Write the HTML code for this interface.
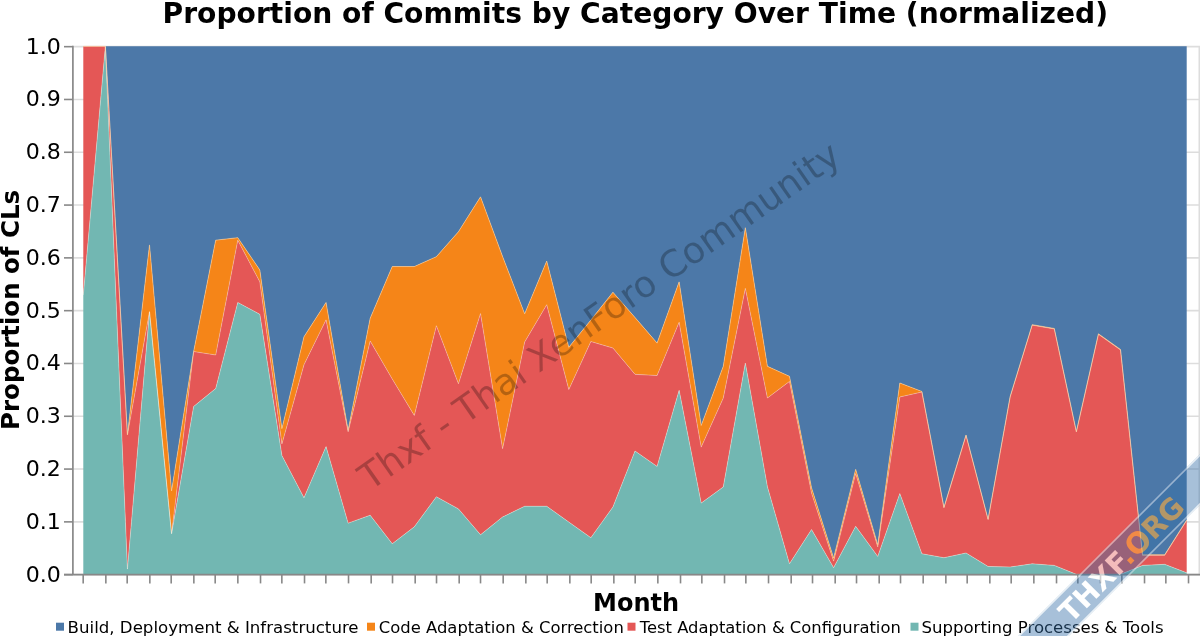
<!DOCTYPE html>
<html><head><meta charset="utf-8"><title>Proportion of Commits by Category Over Time (normalized)</title>
<style>
html,body{margin:0;padding:0;background:#fff;}
body{width:1200px;height:636px;overflow:hidden;position:relative;font-family:"DejaVu Sans","Liberation Sans",sans-serif;}
svg text{font-family:"DejaVu Sans","Liberation Sans",sans-serif;}
.title{font-size:28px;font-weight:bold;fill:#000;}
.atitle{font-size:24px;font-weight:bold;fill:#000;}
.lab{font-size:21.33px;fill:#000;}
.leg{font-size:16px;fill:#000;}
.wm{font-size:36.56px;fill:#000;fill-opacity:0.26;}
.ban{font-size:28.9px;font-weight:bold;}
</style></head><body>
<svg width="1200" height="636" viewBox="0 0 1200 636" style="position:absolute;left:0;top:0;filter:blur(0.5px)">
<rect width="1200" height="636" fill="#fff"/>
<line x1="73.3" x2="1200.0" y1="574.67" y2="574.67" stroke="#ddd" stroke-width="1.6"/>
<line x1="73.3" x2="1200.0" y1="521.87" y2="521.87" stroke="#ddd" stroke-width="1.6"/>
<line x1="73.3" x2="1200.0" y1="469.07" y2="469.07" stroke="#ddd" stroke-width="1.6"/>
<line x1="73.3" x2="1200.0" y1="416.27" y2="416.27" stroke="#ddd" stroke-width="1.6"/>
<line x1="73.3" x2="1200.0" y1="363.47" y2="363.47" stroke="#ddd" stroke-width="1.6"/>
<line x1="73.3" x2="1200.0" y1="310.67" y2="310.67" stroke="#ddd" stroke-width="1.6"/>
<line x1="73.3" x2="1200.0" y1="257.87" y2="257.87" stroke="#ddd" stroke-width="1.6"/>
<line x1="73.3" x2="1200.0" y1="205.07" y2="205.07" stroke="#ddd" stroke-width="1.6"/>
<line x1="73.3" x2="1200.0" y1="152.27" y2="152.27" stroke="#ddd" stroke-width="1.6"/>
<line x1="73.3" x2="1200.0" y1="99.47" y2="99.47" stroke="#ddd" stroke-width="1.6"/>
<line x1="73.3" x2="1200.0" y1="46.67" y2="46.67" stroke="#ddd" stroke-width="1.6"/>
<line x1="1199.3" x2="1199.3" y1="46.67" y2="574.67" stroke="#ddd" stroke-width="1.6"/>
<polygon points="83.30,46.37 105.37,46.37 127.44,46.37 149.50,46.37 171.57,46.37 193.64,46.37 215.71,46.37 237.78,46.37 259.84,46.37 281.91,46.37 303.98,46.37 326.05,46.37 348.12,46.37 370.18,46.37 392.25,46.37 414.32,46.37 436.39,46.37 458.46,46.37 480.52,46.37 502.59,46.37 524.66,46.37 546.73,46.37 568.80,46.37 590.86,46.37 612.93,46.37 635.00,46.37 657.07,46.37 679.14,46.37 701.20,46.37 723.27,46.37 745.34,46.37 767.41,46.37 789.48,46.37 811.54,46.37 833.61,46.37 855.68,46.37 877.75,46.37 899.82,46.37 921.88,46.37 943.95,46.37 966.02,46.37 988.09,46.37 1010.16,46.37 1032.22,46.37 1054.29,46.37 1076.36,46.37 1098.43,46.37 1120.50,46.37 1142.56,46.37 1164.63,46.37 1186.70,46.37 1186.70,519.99 1164.63,554.83 1142.56,554.83 1120.50,349.44 1098.43,333.81 1076.36,431.44 1054.29,328.48 1032.22,324.63 1010.16,396.43 988.09,519.14 966.02,434.98 943.95,507.31 921.88,391.47 899.82,382.97 877.75,544.80 855.68,469.30 833.61,558.00 811.54,487.78 789.48,376.37 767.41,366.34 745.34,227.69 723.27,366.34 701.20,425.47 679.14,281.86 657.07,343.11 635.00,317.50 612.93,292.21 590.86,320.03 568.80,347.33 546.73,261.00 524.66,313.85 502.59,256.51 480.52,196.85 458.46,231.70 436.39,256.67 414.32,266.55 392.25,266.55 370.18,318.29 348.12,430.23 326.05,302.45 303.98,336.77 281.91,428.64 259.84,269.98 237.78,237.66 215.71,240.15 193.64,351.55 171.57,490.95 149.50,244.90 127.44,434.71 105.37,46.37 83.30,46.37" fill="#4c78a8"/>
<polygon points="83.30,46.37 105.37,46.37 127.44,434.71 149.50,244.90 171.57,490.95 193.64,351.55 215.71,240.15 237.78,237.66 259.84,269.98 281.91,428.64 303.98,336.77 326.05,302.45 348.12,430.23 370.18,318.29 392.25,266.55 414.32,266.55 436.39,256.67 458.46,231.70 480.52,196.85 502.59,256.51 524.66,313.85 546.73,261.00 568.80,347.33 590.86,320.03 612.93,292.21 635.00,317.50 657.07,343.11 679.14,281.86 701.20,425.47 723.27,366.34 745.34,227.69 767.41,366.34 789.48,376.37 811.54,487.78 833.61,558.00 855.68,469.30 877.75,544.80 899.82,382.97 921.88,391.47 943.95,507.31 966.02,434.98 988.09,519.14 1010.16,396.43 1032.22,324.63 1054.29,328.48 1076.36,431.44 1098.43,333.81 1120.50,349.44 1142.56,554.83 1164.63,554.83 1186.70,519.99 1186.70,520.51 1164.63,555.36 1142.56,555.36 1120.50,349.97 1098.43,334.34 1076.36,431.97 1054.29,329.01 1032.22,325.15 1010.16,396.96 988.09,519.67 966.02,435.51 943.95,507.84 921.88,392.00 899.82,396.96 877.75,546.91 855.68,473.52 833.61,561.17 811.54,493.06 789.48,381.39 767.41,398.02 745.34,288.35 723.27,398.02 701.20,447.12 679.14,322.20 657.07,375.53 635.00,374.36 612.93,348.02 590.86,341.52 568.80,389.57 546.73,304.67 524.66,342.05 502.59,448.71 480.52,313.54 458.46,383.76 436.39,325.68 414.32,415.44 392.25,379.01 370.18,340.99 348.12,431.81 326.05,319.87 303.98,364.75 281.91,443.95 259.84,281.86 237.78,240.15 215.71,354.99 193.64,351.55 171.57,533.71 149.50,311.69 127.44,434.71 105.37,46.37 83.30,46.37" fill="#f58518"/>
<polygon points="83.30,46.37 105.37,46.37 127.44,434.71 149.50,311.69 171.57,533.71 193.64,351.55 215.71,354.99 237.78,240.15 259.84,281.86 281.91,443.95 303.98,364.75 326.05,319.87 348.12,431.81 370.18,340.99 392.25,379.01 414.32,415.44 436.39,325.68 458.46,383.76 480.52,313.54 502.59,448.71 524.66,342.05 546.73,304.67 568.80,389.57 590.86,341.52 612.93,348.02 635.00,374.36 657.07,375.53 679.14,322.20 701.20,447.12 723.27,398.02 745.34,288.35 767.41,398.02 789.48,381.39 811.54,493.06 833.61,561.17 855.68,473.52 877.75,546.91 899.82,396.96 921.88,392.00 943.95,507.84 966.02,435.51 988.09,519.67 1010.16,396.96 1032.22,325.15 1054.29,329.01 1076.36,431.97 1098.43,334.34 1120.50,349.97 1142.56,555.36 1164.63,555.36 1186.70,520.51 1186.70,572.79 1164.63,564.34 1142.56,565.39 1120.50,574.37 1098.43,574.37 1076.36,574.37 1054.29,565.39 1032.22,563.81 1010.16,566.98 988.09,566.45 966.02,552.99 943.95,557.69 921.88,553.78 899.82,493.59 877.75,556.42 855.68,526.32 833.61,567.66 811.54,529.49 789.48,563.81 767.41,486.72 745.34,363.01 723.27,486.99 701.20,503.09 679.14,390.31 657.07,466.39 635.00,451.03 612.93,507.00 590.86,537.67 568.80,522.10 546.73,506.26 524.66,506.26 502.59,516.98 480.52,534.77 458.46,508.90 436.39,496.75 414.32,526.85 392.25,543.75 370.18,515.23 348.12,523.15 326.05,446.59 303.98,497.81 281.91,455.57 259.84,314.33 237.78,302.45 215.71,388.51 193.64,406.47 171.57,533.71 149.50,311.69 127.44,569.09 105.37,46.37 83.30,295.06" fill="#e45756"/>
<polygon points="83.30,295.06 105.37,46.37 127.44,569.09 149.50,311.69 171.57,533.71 193.64,406.47 215.71,388.51 237.78,302.45 259.84,314.33 281.91,455.57 303.98,497.81 326.05,446.59 348.12,523.15 370.18,515.23 392.25,543.75 414.32,526.85 436.39,496.75 458.46,508.90 480.52,534.77 502.59,516.98 524.66,506.26 546.73,506.26 568.80,522.10 590.86,537.67 612.93,507.00 635.00,451.03 657.07,466.39 679.14,390.31 701.20,503.09 723.27,486.99 745.34,363.01 767.41,486.72 789.48,563.81 811.54,529.49 833.61,567.66 855.68,526.32 877.75,556.42 899.82,493.59 921.88,553.78 943.95,557.69 966.02,552.99 988.09,566.45 1010.16,566.98 1032.22,563.81 1054.29,565.39 1076.36,574.37 1098.43,574.37 1120.50,574.37 1142.56,565.39 1164.63,564.34 1186.70,572.79 1186.70,574.37 1164.63,574.37 1142.56,574.37 1120.50,574.37 1098.43,574.37 1076.36,574.37 1054.29,574.37 1032.22,574.37 1010.16,574.37 988.09,574.37 966.02,574.37 943.95,574.37 921.88,574.37 899.82,574.37 877.75,574.37 855.68,574.37 833.61,574.37 811.54,574.37 789.48,574.37 767.41,574.37 745.34,574.37 723.27,574.37 701.20,574.37 679.14,574.37 657.07,574.37 635.00,574.37 612.93,574.37 590.86,574.37 568.80,574.37 546.73,574.37 524.66,574.37 502.59,574.37 480.52,574.37 458.46,574.37 436.39,574.37 414.32,574.37 392.25,574.37 370.18,574.37 348.12,574.37 326.05,574.37 303.98,574.37 281.91,574.37 259.84,574.37 237.78,574.37 215.71,574.37 193.64,574.37 171.57,574.37 149.50,574.37 127.44,574.37 105.37,574.37 83.30,574.37" fill="#72b7b2"/>
<polyline points="83.30,295.06 105.37,46.37 127.44,569.09 149.50,311.69 171.57,533.71 193.64,406.47 215.71,388.51 237.78,302.45 259.84,314.33 281.91,455.57 303.98,497.81 326.05,446.59 348.12,523.15 370.18,515.23 392.25,543.75 414.32,526.85 436.39,496.75 458.46,508.90 480.52,534.77 502.59,516.98 524.66,506.26 546.73,506.26 568.80,522.10 590.86,537.67 612.93,507.00 635.00,451.03 657.07,466.39 679.14,390.31 701.20,503.09 723.27,486.99 745.34,363.01 767.41,486.72 789.48,563.81 811.54,529.49 833.61,567.66 855.68,526.32 877.75,556.42 899.82,493.59 921.88,553.78 943.95,557.69 966.02,552.99 988.09,566.45 1010.16,566.98 1032.22,563.81 1054.29,565.39 1076.36,574.37 1098.43,574.37 1120.50,574.37 1142.56,565.39 1164.63,564.34 1186.70,572.79" fill="none" stroke="#fff5e6" stroke-opacity="0.4" stroke-width="0.9" stroke-linejoin="round"/>
<polyline points="83.30,46.37 105.37,46.37 127.44,434.71 149.50,311.69 171.57,533.71 193.64,351.55 215.71,354.99 237.78,240.15 259.84,281.86 281.91,443.95 303.98,364.75 326.05,319.87 348.12,431.81 370.18,340.99 392.25,379.01 414.32,415.44 436.39,325.68 458.46,383.76 480.52,313.54 502.59,448.71 524.66,342.05 546.73,304.67 568.80,389.57 590.86,341.52 612.93,348.02 635.00,374.36 657.07,375.53 679.14,322.20 701.20,447.12 723.27,398.02 745.34,288.35 767.41,398.02 789.48,381.39 811.54,493.06 833.61,561.17 855.68,473.52 877.75,546.91 899.82,396.96 921.88,392.00 943.95,507.84 966.02,435.51 988.09,519.67 1010.16,396.96 1032.22,325.15 1054.29,329.01 1076.36,431.97 1098.43,334.34 1120.50,349.97 1142.56,555.36 1164.63,555.36 1186.70,520.51" fill="none" stroke="#fff5e6" stroke-opacity="0.35" stroke-width="0.9" stroke-linejoin="round"/>
<polyline points="83.30,46.37 105.37,46.37 127.44,434.71 149.50,244.90 171.57,490.95 193.64,351.55 215.71,240.15 237.78,237.66 259.84,269.98 281.91,428.64 303.98,336.77 326.05,302.45 348.12,430.23 370.18,318.29 392.25,266.55 414.32,266.55 436.39,256.67 458.46,231.70 480.52,196.85 502.59,256.51 524.66,313.85 546.73,261.00 568.80,347.33 590.86,320.03 612.93,292.21 635.00,317.50 657.07,343.11 679.14,281.86 701.20,425.47 723.27,366.34 745.34,227.69 767.41,366.34 789.48,376.37 811.54,487.78 833.61,558.00 855.68,469.30 877.75,544.80 899.82,382.97 921.88,391.47 943.95,507.31 966.02,434.98 988.09,519.14 1010.16,396.43 1032.22,324.63 1054.29,328.48 1076.36,431.44 1098.43,333.81 1120.50,349.44 1142.56,554.83 1164.63,554.83 1186.70,519.99" fill="none" stroke="#ffd29a" stroke-opacity="0.6" stroke-width="0.9" stroke-linejoin="round"/>
<line x1="72.9" x2="72.9" y1="45.87" y2="574.67" stroke="#888" stroke-width="1.7"/>
<line x1="64" x2="1200.0" y1="574.6" y2="574.6" stroke="#888" stroke-width="1.6"/>
<line x1="64" x2="72.9" y1="574.67" y2="574.67" stroke="#888" stroke-width="1.6"/>
<text x="25.7" y="581.57" class="lab" textLength="35.1" lengthAdjust="spacingAndGlyphs">0.0</text>
<line x1="64" x2="72.9" y1="521.87" y2="521.87" stroke="#888" stroke-width="1.6"/>
<text x="25.7" y="528.77" class="lab" textLength="35.1" lengthAdjust="spacingAndGlyphs">0.1</text>
<line x1="64" x2="72.9" y1="469.07" y2="469.07" stroke="#888" stroke-width="1.6"/>
<text x="25.7" y="475.97" class="lab" textLength="35.1" lengthAdjust="spacingAndGlyphs">0.2</text>
<line x1="64" x2="72.9" y1="416.27" y2="416.27" stroke="#888" stroke-width="1.6"/>
<text x="25.7" y="423.17" class="lab" textLength="35.1" lengthAdjust="spacingAndGlyphs">0.3</text>
<line x1="64" x2="72.9" y1="363.47" y2="363.47" stroke="#888" stroke-width="1.6"/>
<text x="25.7" y="370.37" class="lab" textLength="35.1" lengthAdjust="spacingAndGlyphs">0.4</text>
<line x1="64" x2="72.9" y1="310.67" y2="310.67" stroke="#888" stroke-width="1.6"/>
<text x="25.7" y="317.57" class="lab" textLength="35.1" lengthAdjust="spacingAndGlyphs">0.5</text>
<line x1="64" x2="72.9" y1="257.87" y2="257.87" stroke="#888" stroke-width="1.6"/>
<text x="25.7" y="264.77" class="lab" textLength="35.1" lengthAdjust="spacingAndGlyphs">0.6</text>
<line x1="64" x2="72.9" y1="205.07" y2="205.07" stroke="#888" stroke-width="1.6"/>
<text x="25.7" y="211.97" class="lab" textLength="35.1" lengthAdjust="spacingAndGlyphs">0.7</text>
<line x1="64" x2="72.9" y1="152.27" y2="152.27" stroke="#888" stroke-width="1.6"/>
<text x="25.7" y="159.17" class="lab" textLength="35.1" lengthAdjust="spacingAndGlyphs">0.8</text>
<line x1="64" x2="72.9" y1="99.47" y2="99.47" stroke="#888" stroke-width="1.6"/>
<text x="25.7" y="106.37" class="lab" textLength="35.1" lengthAdjust="spacingAndGlyphs">0.9</text>
<line x1="64" x2="72.9" y1="46.67" y2="46.67" stroke="#888" stroke-width="1.6"/>
<text x="25.7" y="53.57" class="lab" textLength="35.1" lengthAdjust="spacingAndGlyphs">1.0</text>
<line x1="83.18" x2="83.18" y1="574.67" y2="583.4" stroke="#888" stroke-width="1.6"/>
<line x1="105.85" x2="105.85" y1="574.67" y2="583.4" stroke="#888" stroke-width="1.6"/>
<line x1="127.18" x2="127.18" y1="574.67" y2="583.4" stroke="#888" stroke-width="1.6"/>
<line x1="149.85" x2="149.85" y1="574.67" y2="583.4" stroke="#888" stroke-width="1.6"/>
<line x1="171.18" x2="171.18" y1="574.67" y2="583.4" stroke="#888" stroke-width="1.6"/>
<line x1="193.85" x2="193.85" y1="574.67" y2="583.4" stroke="#888" stroke-width="1.6"/>
<line x1="215.18" x2="215.18" y1="574.67" y2="583.4" stroke="#888" stroke-width="1.6"/>
<line x1="237.85" x2="237.85" y1="574.67" y2="583.4" stroke="#888" stroke-width="1.6"/>
<line x1="260.52" x2="260.52" y1="574.67" y2="583.4" stroke="#888" stroke-width="1.6"/>
<line x1="281.85" x2="281.85" y1="574.67" y2="583.4" stroke="#888" stroke-width="1.6"/>
<line x1="304.52" x2="304.52" y1="574.67" y2="583.4" stroke="#888" stroke-width="1.6"/>
<line x1="325.85" x2="325.85" y1="574.67" y2="583.4" stroke="#888" stroke-width="1.6"/>
<line x1="348.52" x2="348.52" y1="574.67" y2="583.4" stroke="#888" stroke-width="1.6"/>
<line x1="371.18" x2="371.18" y1="574.67" y2="583.4" stroke="#888" stroke-width="1.6"/>
<line x1="392.52" x2="392.52" y1="574.67" y2="583.4" stroke="#888" stroke-width="1.6"/>
<line x1="415.18" x2="415.18" y1="574.67" y2="583.4" stroke="#888" stroke-width="1.6"/>
<line x1="436.52" x2="436.52" y1="574.67" y2="583.4" stroke="#888" stroke-width="1.6"/>
<line x1="459.18" x2="459.18" y1="574.67" y2="583.4" stroke="#888" stroke-width="1.6"/>
<line x1="480.52" x2="480.52" y1="574.67" y2="583.4" stroke="#888" stroke-width="1.6"/>
<line x1="503.18" x2="503.18" y1="574.67" y2="583.4" stroke="#888" stroke-width="1.6"/>
<line x1="525.85" x2="525.85" y1="574.67" y2="583.4" stroke="#888" stroke-width="1.6"/>
<line x1="547.18" x2="547.18" y1="574.67" y2="583.4" stroke="#888" stroke-width="1.6"/>
<line x1="569.85" x2="569.85" y1="574.67" y2="583.4" stroke="#888" stroke-width="1.6"/>
<line x1="591.18" x2="591.18" y1="574.67" y2="583.4" stroke="#888" stroke-width="1.6"/>
<line x1="613.85" x2="613.85" y1="574.67" y2="583.4" stroke="#888" stroke-width="1.6"/>
<line x1="635.18" x2="635.18" y1="574.67" y2="583.4" stroke="#888" stroke-width="1.6"/>
<line x1="657.85" x2="657.85" y1="574.67" y2="583.4" stroke="#888" stroke-width="1.6"/>
<line x1="680.52" x2="680.52" y1="574.67" y2="583.4" stroke="#888" stroke-width="1.6"/>
<line x1="701.85" x2="701.85" y1="574.67" y2="583.4" stroke="#888" stroke-width="1.6"/>
<line x1="724.52" x2="724.52" y1="574.67" y2="583.4" stroke="#888" stroke-width="1.6"/>
<line x1="745.85" x2="745.85" y1="574.67" y2="583.4" stroke="#888" stroke-width="1.6"/>
<line x1="768.52" x2="768.52" y1="574.67" y2="583.4" stroke="#888" stroke-width="1.6"/>
<line x1="791.18" x2="791.18" y1="574.67" y2="583.4" stroke="#888" stroke-width="1.6"/>
<line x1="812.52" x2="812.52" y1="574.67" y2="583.4" stroke="#888" stroke-width="1.6"/>
<line x1="835.18" x2="835.18" y1="574.67" y2="583.4" stroke="#888" stroke-width="1.6"/>
<line x1="856.52" x2="856.52" y1="574.67" y2="583.4" stroke="#888" stroke-width="1.6"/>
<line x1="879.18" x2="879.18" y1="574.67" y2="583.4" stroke="#888" stroke-width="1.6"/>
<line x1="900.52" x2="900.52" y1="574.67" y2="583.4" stroke="#888" stroke-width="1.6"/>
<line x1="923.18" x2="923.18" y1="574.67" y2="583.4" stroke="#888" stroke-width="1.6"/>
<line x1="945.85" x2="945.85" y1="574.67" y2="583.4" stroke="#888" stroke-width="1.6"/>
<line x1="967.18" x2="967.18" y1="574.67" y2="583.4" stroke="#888" stroke-width="1.6"/>
<line x1="989.85" x2="989.85" y1="574.67" y2="583.4" stroke="#888" stroke-width="1.6"/>
<line x1="1011.18" x2="1011.18" y1="574.67" y2="583.4" stroke="#888" stroke-width="1.6"/>
<line x1="1033.85" x2="1033.85" y1="574.67" y2="583.4" stroke="#888" stroke-width="1.6"/>
<line x1="1056.52" x2="1056.52" y1="574.67" y2="583.4" stroke="#888" stroke-width="1.6"/>
<line x1="1077.85" x2="1077.85" y1="574.67" y2="583.4" stroke="#888" stroke-width="1.6"/>
<line x1="1100.52" x2="1100.52" y1="574.67" y2="583.4" stroke="#888" stroke-width="1.6"/>
<line x1="1121.85" x2="1121.85" y1="574.67" y2="583.4" stroke="#888" stroke-width="1.6"/>
<line x1="1144.52" x2="1144.52" y1="574.67" y2="583.4" stroke="#888" stroke-width="1.6"/>
<line x1="1165.85" x2="1165.85" y1="574.67" y2="583.4" stroke="#888" stroke-width="1.6"/>
<line x1="1188.52" x2="1188.52" y1="574.67" y2="583.4" stroke="#888" stroke-width="1.6"/>
<text x="162.6" y="23.1" class="title" textLength="945.5" lengthAdjust="spacingAndGlyphs">Proportion of Commits by Category Over Time (normalized)</text>
<text transform="translate(18.75,429.9) rotate(-90)" class="atitle" textLength="240" lengthAdjust="spacingAndGlyphs">Proportion of CLs</text>
<text x="636.1" y="611.3" text-anchor="middle" class="atitle">Month</text>
<rect x="56" y="622.7" width="8" height="8" fill="#4c78a8"/>
<text x="67.6" y="632.6" class="leg" textLength="291" lengthAdjust="spacingAndGlyphs">Build, Deployment &amp; Infrastructure</text>
<rect x="367" y="622.7" width="8" height="8" fill="#f58518"/>
<text x="378.8" y="632.6" class="leg" textLength="245" lengthAdjust="spacingAndGlyphs">Code Adaptation &amp; Correction</text>
<rect x="627.5" y="622.7" width="8" height="8" fill="#e45756"/>
<text x="639.8" y="632.6" class="leg" textLength="261" lengthAdjust="spacingAndGlyphs">Test Adaptation &amp; Configuration</text>
<rect x="910.5" y="622.7" width="8" height="8" fill="#72b7b2"/>
<text x="921.5" y="632.6" class="leg" textLength="242" lengthAdjust="spacingAndGlyphs">Supporting Processes &amp; Tools</text>
<text transform="translate(369.9,491.3) rotate(-34.93)" class="wm">Thxf - Thai XenForo Community</text>
<g transform="translate(1125,554.5) rotate(-45)" opacity="0.6">
<rect x="-250" y="-18" width="500" height="36" fill="#346fa8" fill-opacity="0.72"/>
<line x1="-250" x2="250" y1="-17.3" y2="-17.3" stroke="#fff" stroke-opacity="0.75" stroke-width="1.6"/>
<line x1="-250" x2="250" y1="17.3" y2="17.3" stroke="#fff" stroke-opacity="0.75" stroke-width="1.6"/>
<text x="-87.4" y="11" class="ban"><tspan fill="#fff">THXF</tspan><tspan fill="#fbac3c">.ORG</tspan></text>
</g>
</svg>
</body></html>
